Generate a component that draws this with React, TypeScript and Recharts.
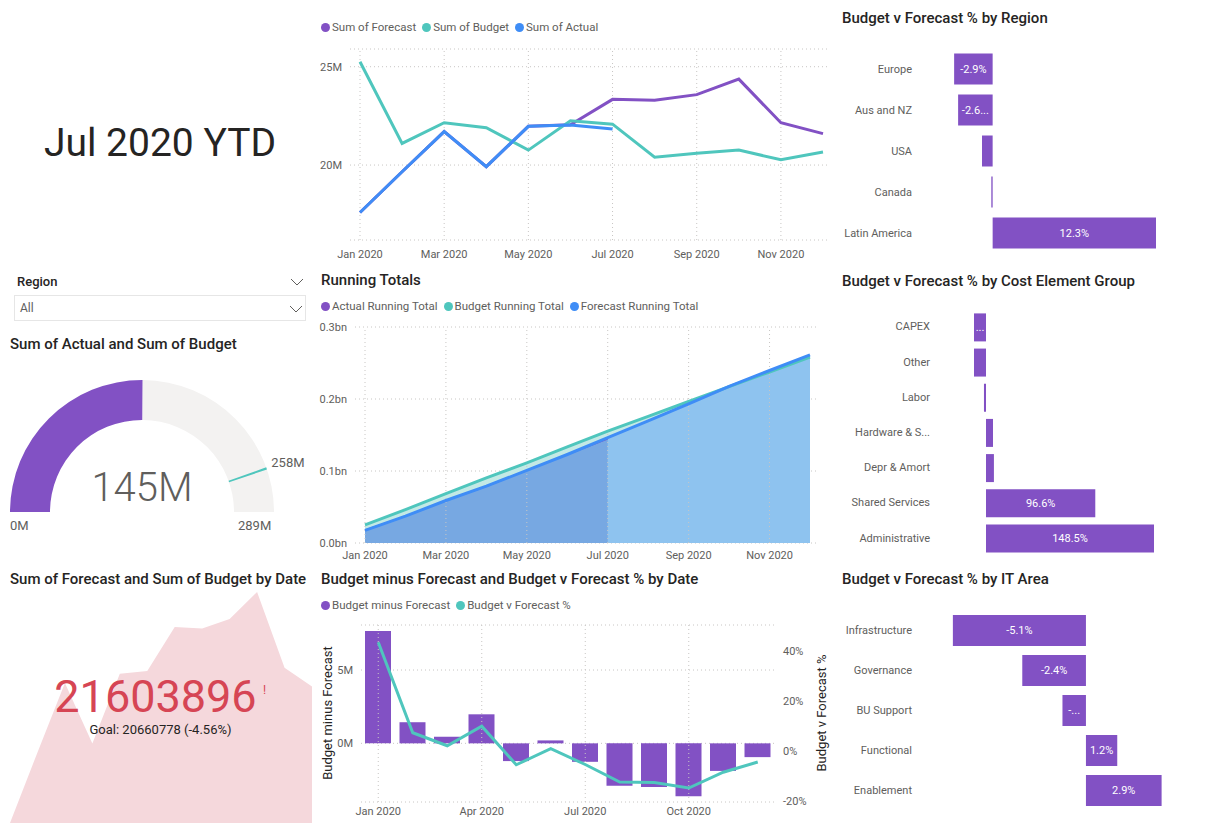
import {
  Area,
  AreaChart,
  Bar,
  BarChart,
  CartesianGrid,
  Cell,
  ComposedChart,
  LabelList,
  Line,
  LineChart,
  Pie,
  PieChart,
  ReferenceLine,
  XAxis,
  YAxis,
} from "recharts";

const FONT = "Roboto, 'Segoe UI', sans-serif";
const AXIS_TEXT = "#605E5C";
const TITLE_TEXT = "#252423";
const GRID = "#C8C6C4";
const PURPLE = "#8251C4";
const TEAL = "#4FC6BD";
const BLUE = "#3F8DF6";

// monthly values, in millions
const months = [
  "Jan 2020", "Feb 2020", "Mar 2020", "Apr 2020", "May 2020", "Jun 2020",
  "Jul 2020", "Aug 2020", "Sep 2020", "Oct 2020", "Nov 2020", "Dec 2020",
];
const forecastMonthly = [17.59, 19.66, 21.7, 19.92, 21.97, 22.05, 23.34, 23.3, 23.58, 24.37, 22.15, 21.6];
const budgetMonthly = [25.25, 21.1, 22.15, 21.9, 20.76, 22.25, 22.08, 20.4, 20.6, 20.76, 20.27, 20.66];
const actualMonthly = [17.59, 19.66, 21.7, 19.92, 21.97, 22.03, 21.83, null, null, null, null, null];

// running totals, in billions
const actualRunning = [0.0176, 0.0373, 0.059, 0.0789, 0.1008, 0.1229, 0.1447, null, null, null, null, null];
const budgetRunning = [0.0253, 0.0464, 0.0685, 0.0904, 0.1112, 0.1334, 0.1555, 0.1759, 0.1965, 0.2173, 0.2375, 0.2582];
const forecastRunning = [0.0176, 0.0373, 0.059, 0.0789, 0.1008, 0.1229, 0.1462, 0.1695, 0.1931, 0.2175, 0.2396, 0.2612];

const budgetMinusForecast = [7.66, 1.44, 0.45, 1.98, -1.21, 0.2, -1.26, -2.9, -2.98, -3.61, -1.88, -0.94];
const budgetVsForecastPct = [43.5, 7.3, 2.1, 9.9, -5.5, 0.9, -5.4, -12.4, -12.6, -14.8, -8.5, -4.4];

const regions = ["Europe", "Aus and NZ", "USA", "Canada", "Latin America"];
const regionPct = [-2.9, -2.6, -0.8, -0.1, 12.3];
const regionLabels = ["-2.9%", "-2.6...", "", "", "12.3%"];

const costGroups = ["CAPEX", "Other", "Labor", "Hardware & Software", "Depr & Amort", "Shared Services", "Administrative"];
const costPct = [-10.6, -10.6, -1.8, 6.2, 7.0, 96.6, 148.5];
const costLabels = ["...", "", "", "", "", "96.6%", "148.5%"];

const itAreas = ["Infrastructure", "Governance", "BU Support", "Functional", "Enablement"];
const itPct = [-5.1, -2.44, -0.9, 1.2, 2.9];
const itLabels = ["-5.1%", "-2.4%", "-...", "1.2%", "2.9%"];

const gaugeActual = 145;
const gaugeTarget = 258;
const gaugeMax = 289;

const kpiValue = 21603896;
const kpiGoal = 20660778;
const kpiGoalPct = "-4.56%";

const monthlyRows = months.map((month, i) => ({
  month,
  forecast: forecastMonthly[i],
  budget: budgetMonthly[i],
  actual: actualMonthly[i],
  actualRun: actualRunning[i],
  budgetRun: budgetRunning[i],
  forecastRun: forecastRunning[i],
  diff: budgetMinusForecast[i],
  pct: budgetVsForecastPct[i],
}));

const gaugeData = [{ value: gaugeActual }, { value: gaugeMax - gaugeActual }];
const targetData = [{ value: gaugeTarget - 0.8 }, { value: 1.6 }, { value: gaugeMax - gaugeTarget - 0.8 }];

const tickStyle = { fill: AXIS_TEXT, fontSize: 11 };

function Title({ left, top, children }: { left: number; top: number; children: string }) {
  return (
    <div
      style={{
        position: "absolute",
        left,
        top,
        fontSize: 15,
        fontWeight: 500,
        color: TITLE_TEXT,
        whiteSpace: "nowrap",
        lineHeight: 1,
      }}
    >
      {children}
    </div>
  );
}

type LegendItem = { label: string; color: string };

function ChartLegend({ left, top, items }: { left: number; top: number; items: LegendItem[] }) {
  return (
    <div
      style={{
        position: "absolute",
        left,
        top,
        display: "flex",
        alignItems: "center",
        fontSize: 11.5,
        color: AXIS_TEXT,
        lineHeight: "14px",
        whiteSpace: "nowrap",
      }}
    >
      {items.map((item) => (
        <div key={item.label} style={{ display: "flex", alignItems: "center", marginRight: 6 }}>
          <span
            style={{
              width: 9,
              height: 9,
              borderRadius: "50%",
              background: item.color,
              marginRight: 2,
              display: "inline-block",
            }}
          />
          {item.label}
        </div>
      ))}
    </div>
  );
}

function Chevron({ left, top }: { left: number; top: number }) {
  return (
    <svg style={{ position: "absolute", left, top }} width={14} height={8}>
      <polyline points="1,1 7,7 13,1" fill="none" stroke={AXIS_TEXT} strokeWidth={1} />
    </svg>
  );
}

function CategoryTick(props: any) {
  const { x, y, payload } = props;
  const v: string = String(payload.value);
  const text = v.length > 15 ? v.slice(0, 12) + "..." : v;
  return (
    <text x={x} y={y} textAnchor="end" dominantBaseline="central" fill={AXIS_TEXT} fontSize={11}>
      {text}
    </text>
  );
}

type HBarProps = {
  left: number;
  top: number;
  width: number;
  height: number;
  names: string[];
  values: number[];
  labels: string[];
  domain: [number, number];
  axisWidth: number;
  barSize: number;
  margin: { top: number; right: number; bottom: number; left: number };
};

function HBarPanel(p: HBarProps) {
  const rows = p.names.map((name, i) => ({ name, value: p.values[i], label: p.labels[i] }));
  return (
    <div style={{ position: "absolute", left: p.left, top: p.top }}>
      <BarChart width={p.width} height={p.height} data={rows} layout="vertical" margin={p.margin}>
        <XAxis type="number" hide domain={p.domain} allowDataOverflow />
        <YAxis
          type="category"
          dataKey="name"
          width={p.axisWidth}
          axisLine={false}
          tickLine={false}
          interval={0}
          tick={<CategoryTick />}
        />
        <Bar dataKey="value" fill={PURPLE} barSize={p.barSize} isAnimationActive={false}>
          <LabelList dataKey="label" position="center" fill="#ffffff" fontSize={11} />
        </Bar>
      </BarChart>
    </div>
  );
}

function renderTargetLabel(props: any) {
  if (props.index !== 1) return null;
  const rad = (Math.PI / 180) * props.midAngle;
  const x = props.cx + (props.outerRadius + 5) * Math.cos(rad);
  const y = props.cy - (props.outerRadius + 5) * Math.sin(rad);
  return (
    <text x={x} y={y - 4} fill={AXIS_TEXT} fontSize={13} textAnchor="start" dominantBaseline="central">
      {`${gaugeTarget}M`}
    </text>
  );
}

export default function App() {
  return (
    <div
      style={{
        position: "absolute",
        left: 0,
        top: 0,
        width: 1206,
        height: 839,
        overflow: "hidden",
        background: "#ffffff",
        fontFamily: FONT,
      }}
    >
      {/* header card */}
      <div
        style={{
          position: "absolute",
          left: 0,
          top: 124,
          width: 320,
          textAlign: "center",
          fontSize: 39,
          fontWeight: 400,
          color: TITLE_TEXT,
          lineHeight: 1,
        }}
      >
        Jul 2020 YTD
      </div>

      {/* region slicer */}
      <div style={{ position: "absolute", left: 17, top: 275, fontSize: 13, fontWeight: 500, color: TITLE_TEXT, lineHeight: 1 }}>
        Region
      </div>
      <Chevron left={290} top={278} />
      <div
        style={{
          position: "absolute",
          left: 14,
          top: 295,
          width: 290,
          height: 24,
          border: "1px solid #E6E6E6",
        }}
      />
      <div style={{ position: "absolute", left: 20, top: 302, fontSize: 12, color: AXIS_TEXT, lineHeight: 1 }}>All</div>
      <Chevron left={289} top={305} />

      {/* gauge */}
      <Title left={10} top={337}>Sum of Actual and Sum of Budget</Title>
      <div style={{ position: "absolute", left: 0, top: 370 }}>
        <PieChart width={320} height={170} margin={{ top: 0, right: 0, bottom: 0, left: 0 }}>
          <Pie
            data={gaugeData}
            dataKey="value"
            cx={142}
            cy={142}
            startAngle={180}
            endAngle={0}
            innerRadius={92}
            outerRadius={132}
            stroke="none"
            isAnimationActive={false}
          >
            <Cell fill={PURPLE} />
            <Cell fill="#F3F2F1" />
          </Pie>
          <Pie
            data={targetData}
            dataKey="value"
            cx={142}
            cy={142}
            startAngle={180}
            endAngle={0}
            innerRadius={92}
            outerRadius={132}
            stroke="none"
            labelLine={false}
            label={renderTargetLabel}
            isAnimationActive={false}
          >
            <Cell fill="transparent" />
            <Cell fill={TEAL} />
            <Cell fill="transparent" />
          </Pie>
        </PieChart>
      </div>
      <div
        style={{
          position: "absolute",
          left: 42,
          top: 468,
          width: 200,
          textAlign: "center",
          fontSize: 40,
          fontWeight: 300,
          color: AXIS_TEXT,
          lineHeight: 1,
        }}
      >
        {`${gaugeActual}M`}
      </div>
      <div style={{ position: "absolute", left: 10, top: 519, fontSize: 13, color: AXIS_TEXT, lineHeight: 1 }}>0M</div>
      <div style={{ position: "absolute", left: 238, top: 519, fontSize: 13, color: AXIS_TEXT, lineHeight: 1 }}>
        {`${gaugeMax}M`}
      </div>

      {/* KPI card */}
      <Title left={10} top={572}>Sum of Forecast and Sum of Budget by Date</Title>
      <div style={{ position: "absolute", left: 10, top: 592 }}>
        <AreaChart width={302} height={231} data={monthlyRows} margin={{ top: 0, right: 0, bottom: 0, left: 0 }}>
          <XAxis dataKey="month" hide />
          <YAxis hide domain={["dataMin", "dataMax"]} />
          <Area
            dataKey="forecast"
            type="linear"
            fill="#F5D8DC"
            fillOpacity={1}
            stroke="none"
            baseValue="dataMin"
            isAnimationActive={false}
          />
        </AreaChart>
      </div>
      <div
        style={{
          position: "absolute",
          left: 0,
          top: 674,
          width: 311,
          textAlign: "center",
          fontSize: 45,
          color: "#D64554",
          lineHeight: 1,
        }}
      >
        {kpiValue}
      </div>
      <div style={{ position: "absolute", left: 263, top: 684, fontSize: 12, color: "#D64554", lineHeight: 1 }}>!</div>
      <div
        style={{
          position: "absolute",
          left: 0,
          top: 723,
          width: 321,
          textAlign: "center",
          fontSize: 13,
          color: TITLE_TEXT,
          lineHeight: 1,
        }}
      >
        {`Goal: ${kpiGoal} (${kpiGoalPct})`}
      </div>

      {/* monthly lines */}
      <ChartLegend
        left={321}
        top={20}
        items={[
          { label: "Sum of Forecast", color: PURPLE },
          { label: "Sum of Budget", color: TEAL },
          { label: "Sum of Actual", color: BLUE },
        ]}
      />
      <div style={{ position: "absolute", left: 310, top: 40 }}>
        <LineChart width={525} height={230} data={monthlyRows} margin={{ top: 9, right: 6, bottom: 0, left: 0 }}>
          <CartesianGrid vertical={false} stroke={GRID} strokeDasharray="1 3" />
          {["Jan 2020", "Mar 2020", "May 2020", "Jul 2020", "Sep 2020", "Nov 2020"].map((m) => (
            <ReferenceLine key={m} x={m} stroke={GRID} strokeDasharray="1 3" />
          ))}
          <XAxis
            dataKey="month"
            interval={1}
            axisLine={false}
            tickLine={false}
            height={30}
            tickSize={8}
            padding={{ left: 10, right: 6 }}
            tick={tickStyle}
          />
          <YAxis
            width={40}
            domain={[16.19, 25.9]}
            allowDataOverflow
            ticks={[20, 25]}
            axisLine={false}
            tickLine={false}
            tick={tickStyle}
            tickFormatter={(v: number) => `${v}M`}
          />
          <Line dataKey="forecast" stroke={PURPLE} strokeWidth={3} dot={false} activeDot={false} isAnimationActive={false} />
          <Line dataKey="budget" stroke={TEAL} strokeWidth={3} dot={false} activeDot={false} isAnimationActive={false} />
          <Line dataKey="actual" stroke={BLUE} strokeWidth={3} dot={false} activeDot={false} isAnimationActive={false} />
        </LineChart>
      </div>

      {/* running totals */}
      <Title left={321} top={273}>Running Totals</Title>
      <ChartLegend
        left={321}
        top={299}
        items={[
          { label: "Actual Running Total", color: PURPLE },
          { label: "Budget Running Total", color: TEAL },
          { label: "Forecast Running Total", color: BLUE },
        ]}
      />
      <div style={{ position: "absolute", left: 310, top: 315 }}>
        <ComposedChart width={525} height={250} data={monthlyRows} margin={{ top: 12, right: 17, bottom: 0, left: 0 }}>
          <CartesianGrid vertical={false} stroke={GRID} strokeDasharray="1 3" />
          {["Jan 2020", "Mar 2020", "May 2020", "Jul 2020", "Sep 2020", "Nov 2020"].map((m) => (
            <ReferenceLine key={m} x={m} stroke={GRID} strokeDasharray="1 3" />
          ))}
          <XAxis
            dataKey="month"
            interval={1}
            axisLine={false}
            tickLine={false}
            height={22}
            padding={{ left: 10, right: 8 }}
            tick={tickStyle}
          />
          <YAxis
            width={45}
            domain={[0, 0.3]}
            allowDataOverflow
            ticks={[0, 0.1, 0.2, 0.3]}
            axisLine={false}
            tickLine={false}
            tick={tickStyle}
            tickFormatter={(v: number) => `${v.toFixed(1)}bn`}
          />
          <Area dataKey="budgetRun" type="linear" fill="#C3E9E5" fillOpacity={1} stroke="none" isAnimationActive={false} />
          <Area dataKey="forecastRun" type="linear" fill="#8EC3EF" fillOpacity={1} stroke="none" isAnimationActive={false} />
          <Area dataKey="actualRun" type="linear" fill="#77A8E2" fillOpacity={1} stroke="none" isAnimationActive={false} />
          <Line dataKey="actualRun" stroke={PURPLE} strokeWidth={1.5} dot={false} activeDot={false} isAnimationActive={false} />
          <Line dataKey="budgetRun" stroke={TEAL} strokeWidth={3} dot={false} activeDot={false} isAnimationActive={false} />
          <Line dataKey="forecastRun" stroke={BLUE} strokeWidth={3} dot={false} activeDot={false} isAnimationActive={false} />
        </ComposedChart>
      </div>

      {/* budget minus forecast combo */}
      <Title left={321} top={572}>Budget minus Forecast and Budget v Forecast % by Date</Title>
      <ChartLegend
        left={321}
        top={598}
        items={[
          { label: "Budget minus Forecast", color: PURPLE },
          { label: "Budget v Forecast %", color: TEAL },
        ]}
      />
      <div style={{ position: "absolute", left: 310, top: 615 }}>
        <ComposedChart width={530} height={215} data={monthlyRows} margin={{ top: 10, right: 0, bottom: 0, left: 0 }}>
          <CartesianGrid yAxisId="left" vertical={false} stroke={GRID} strokeDasharray="1 3" />
          {["Jan 2020", "Apr 2020", "Jul 2020", "Oct 2020"].map((m) => (
            <ReferenceLine key={m} x={m} yAxisId="left" stroke={GRID} strokeDasharray="1 3" />
          ))}
          <XAxis
            dataKey="month"
            interval={2}
            axisLine={false}
            tickLine={false}
            height={28}
            tickSize={3}
            tick={tickStyle}
          />
          <YAxis
            yAxisId="left"
            width={51}
            domain={[-4.0, 8.07]}
            allowDataOverflow
            ticks={[0, 5]}
            axisLine={false}
            tickLine={false}
            tick={tickStyle}
            tickFormatter={(v: number) => `${v}M`}
          />
          <YAxis
            yAxisId="right"
            orientation="right"
            width={65}
            domain={[-20.4, 50.4]}
            allowDataOverflow
            ticks={[-20, 0, 20, 40]}
            axisLine={false}
            tickLine={false}
            tick={tickStyle}
            tickFormatter={(v: number) => `${v}%`}
          />
          <Bar yAxisId="left" dataKey="diff" fill={PURPLE} barSize={26} isAnimationActive={false} />
          <Line
            yAxisId="right"
            dataKey="pct"
            stroke={TEAL}
            strokeWidth={3}
            dot={false}
            activeDot={false}
            isAnimationActive={false}
          />
        </ComposedChart>
      </div>
      <div
        style={{
          position: "absolute",
          left: 327,
          top: 713,
          transform: "translate(-50%, -50%) rotate(-90deg)",
          fontSize: 13,
          color: TITLE_TEXT,
          whiteSpace: "nowrap",
          lineHeight: 1,
        }}
      >
        Budget minus Forecast
      </div>
      <div
        style={{
          position: "absolute",
          left: 821,
          top: 713,
          transform: "translate(-50%, -50%) rotate(-90deg)",
          fontSize: 13,
          color: TITLE_TEXT,
          whiteSpace: "nowrap",
          lineHeight: 1,
        }}
      >
        Budget v Forecast %
      </div>

      {/* right column bars */}
      <Title left={842} top={11}>Budget v Forecast % by Region</Title>
      <HBarPanel
        left={835}
        top={45}
        width={370}
        height={210}
        names={regions}
        values={regionPct}
        labels={regionLabels}
        domain={[-5.47, 12.3]}
        axisWidth={85}
        barSize={31}
        margin={{ top: 3.5, right: 49, bottom: 1.5, left: 0 }}
      />

      <Title left={842} top={274}>Budget v Forecast % by Cost Element Group</Title>
      <HBarPanel
        left={835}
        top={300}
        width={370}
        height={260}
        names={costGroups}
        values={costPct}
        labels={costLabels}
        domain={[-42.43, 153.8]}
        axisWidth={103}
        barSize={28}
        margin={{ top: 9.4, right: 45, bottom: 4.4, left: 0 }}
      />

      <Title left={842} top={572}>Budget v Forecast % by IT Area</Title>
      <HBarPanel
        left={835}
        top={600}
        width={370}
        height={220}
        names={itAreas}
        values={itPct}
        labels={itLabels}
        domain={[-6.36, 3.03]}
        axisWidth={85}
        barSize={31}
        margin={{ top: 10, right: 40, bottom: 10, left: 0 }}
      />
    </div>
  );
}
